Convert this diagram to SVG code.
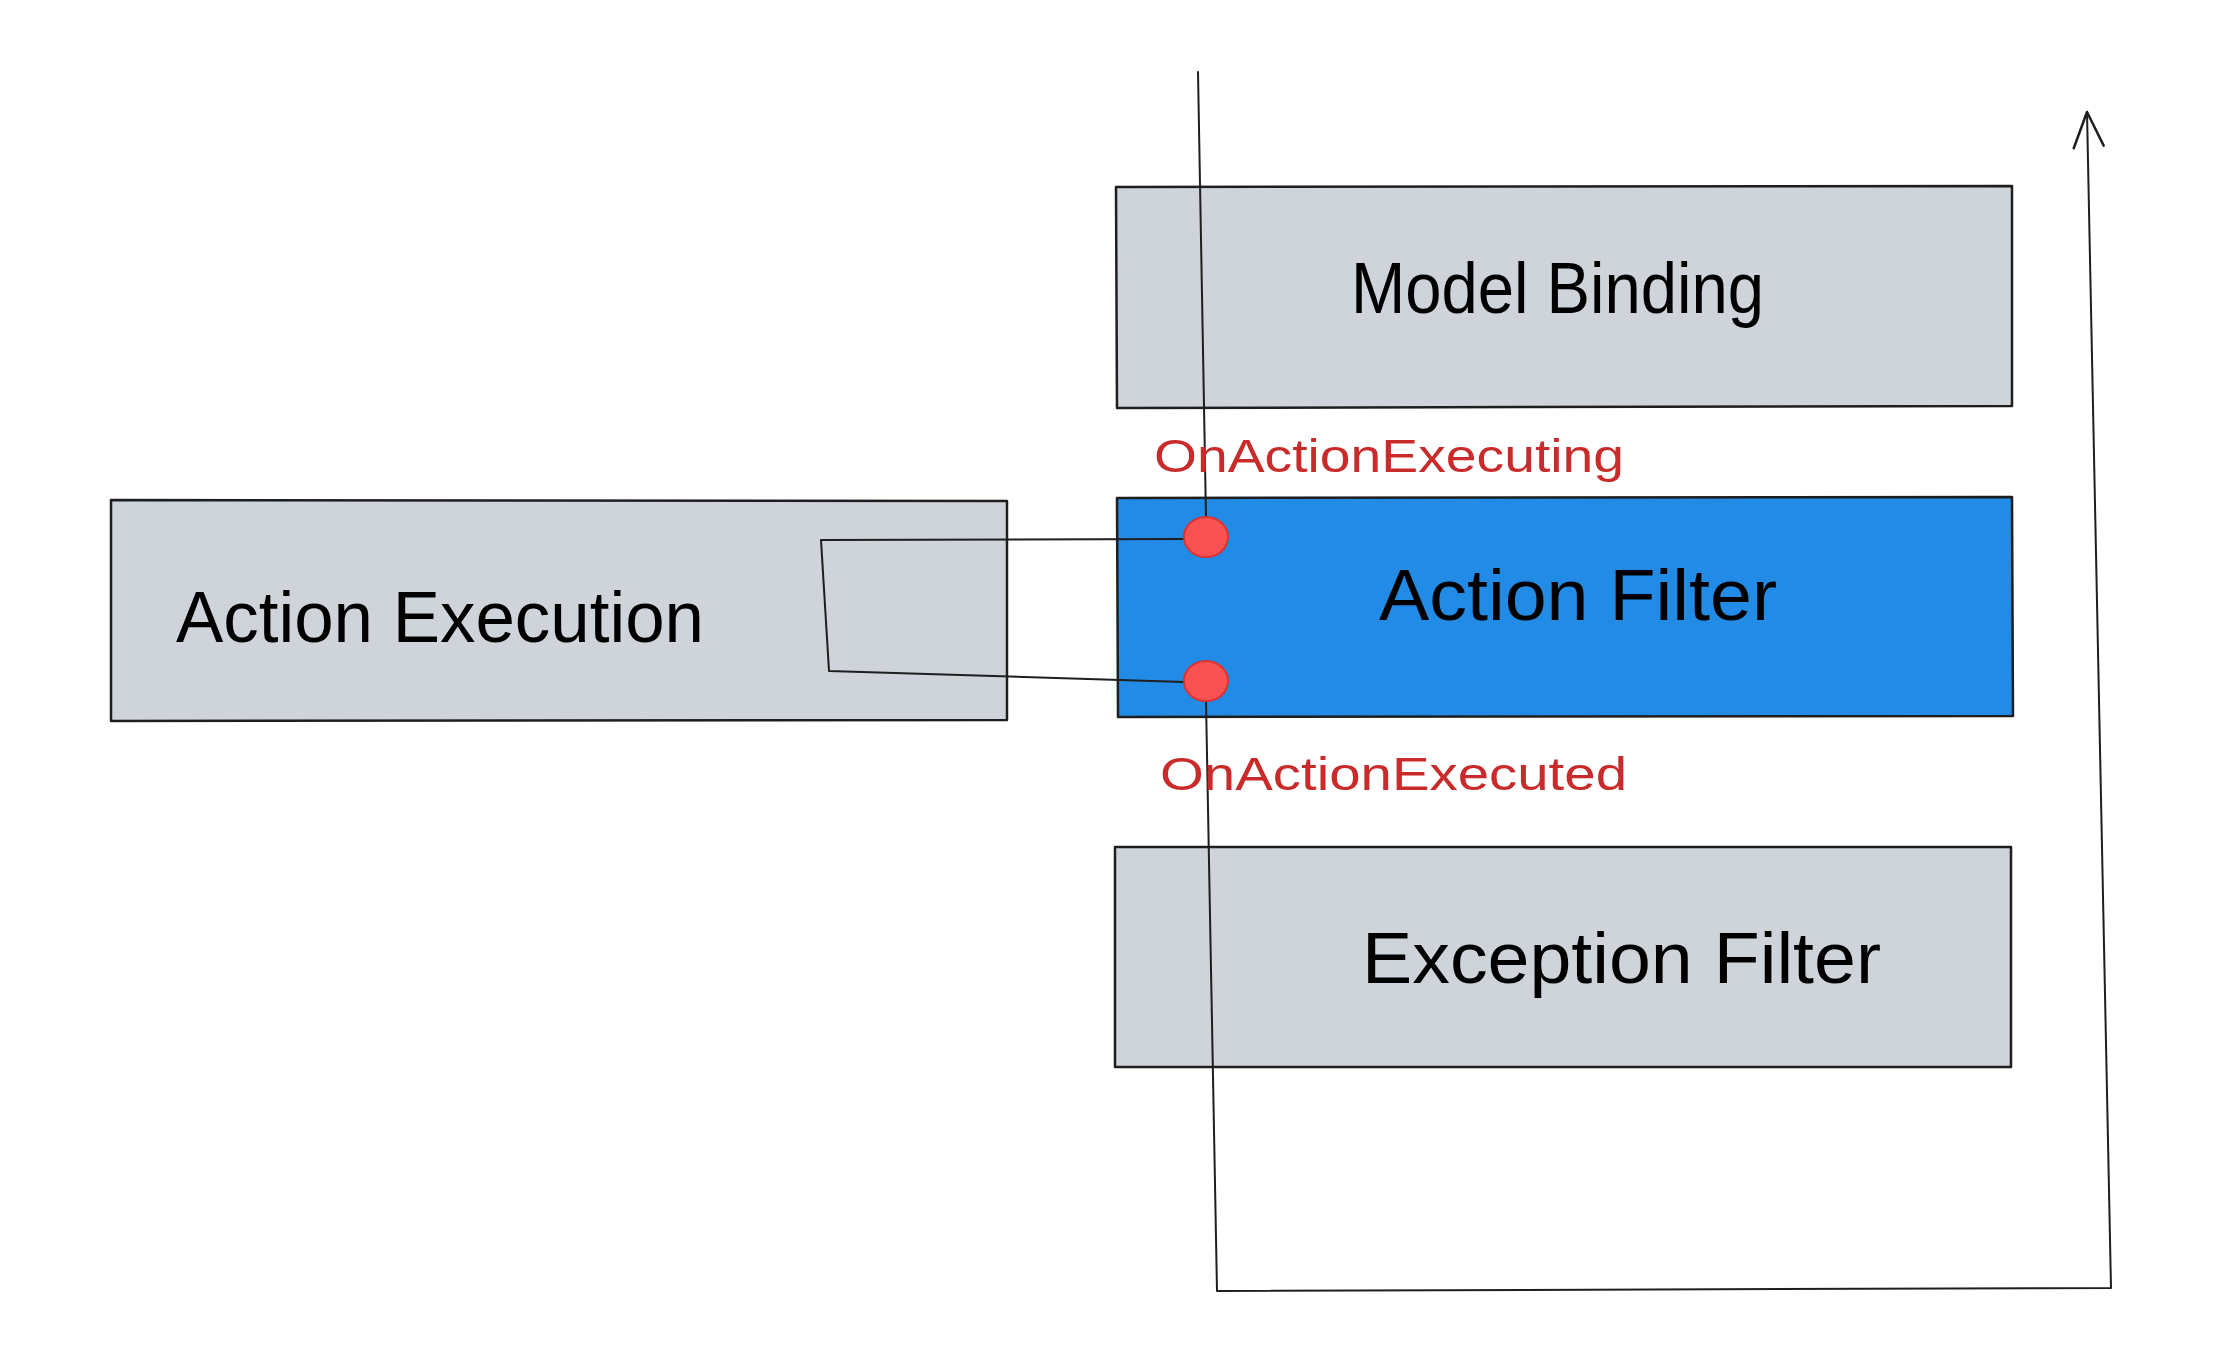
<svg xmlns="http://www.w3.org/2000/svg" width="2224" height="1362" viewBox="0 0 2224 1362">
<style>
.box{stroke:#1e1e1e;stroke-width:2.5;stroke-linejoin:round}
.gray{fill:#ced4da}
.blue{fill:#228be6}
.lbl{font-family:"Liberation Sans",Arial,sans-serif;font-size:72px;fill:#000}
.red{font-family:"Liberation Sans",Arial,sans-serif;font-size:46px;fill:#c92a2a}
.conn{fill:none;stroke:#1e1e1e;stroke-width:2;stroke-linejoin:round;stroke-linecap:round}
.dot{fill:#fa5252;stroke:#e03131;stroke-width:2}
</style>
<defs>
<marker id="arr" viewBox="0 0 40 40" refX="38" refY="20" markerWidth="40" markerHeight="40" markerUnits="userSpaceOnUse" orient="auto">
<path d="M2,6 L38,20 L4,36" fill="none" stroke="#1e1e1e" stroke-width="2.5" stroke-linecap="round" stroke-linejoin="round"/>
</marker>
</defs>
<rect width="2224" height="1362" fill="#fff"/>
<g id="model-binding">
<path class="box gray" d="M1116,187 L2012,186 L2012,406 L1117,408 Z"/>
<text class="lbl" x="1351" y="313" textLength="413" lengthAdjust="spacingAndGlyphs">Model Binding</text>
</g>
<g id="action-filter">
<path class="box blue" d="M1117,498 L2012,497 L2013,716 L1118,717 Z"/>
<text class="lbl" x="1379" y="620" textLength="398" lengthAdjust="spacingAndGlyphs">Action Filter</text>
</g>
<g id="exception-filter">
<path class="box gray" d="M1115,847 L2011,847 L2011,1067 L1115,1067 Z"/>
<text class="lbl" x="1362" y="983" textLength="519" lengthAdjust="spacingAndGlyphs">Exception Filter</text>
</g>
<g id="action-execution">
<path class="box gray" d="M111,500 L1007,501 L1007,720 L111,721 Z"/>
<text class="lbl" x="176" y="642" textLength="528" lengthAdjust="spacingAndGlyphs">Action Execution</text>
</g>
<g id="connectors">
<path class="conn" d="M1198,72 L1206,518"/>
<path class="conn" d="M1184,539 L821,540 L829,671 L1184,682"/>
<path class="conn" d="M1206,701 L1217,1291 L2111,1288 L2087,112" marker-end="url(#arr)"/>
</g>
<g id="on-action-executing">
<ellipse class="dot" cx="1206" cy="537" rx="22" ry="20"/>
<text class="red" x="1154" y="472" textLength="470" lengthAdjust="spacingAndGlyphs">OnActionExecuting</text>
</g>
<g id="on-action-executed">
<ellipse class="dot" cx="1206" cy="681" rx="22" ry="20"/>
<text class="red" x="1160" y="790" textLength="467" lengthAdjust="spacingAndGlyphs">OnActionExecuted</text>
</g>
</svg>
